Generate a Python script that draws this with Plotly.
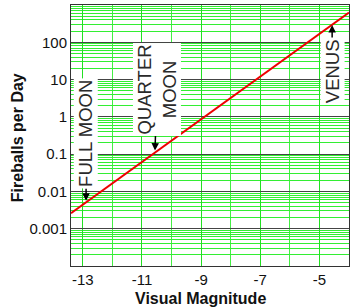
import math
import plotly.graph_objects as go

# Data
magnitude = [-13.4, -4.0]
fireballs_per_day = [0.0026, 630]

x_tick_vals = [-13, -11, -9, -7, -5]
x_tick_text = ["-13", "-11", "-9", "-7", "-5"]
y_tick_vals = [100, 10, 1, 0.1, 0.01, 0.001]
y_tick_text = ["100", "10", "1", "0.1", "0.01", "0.001"]

label_text = ["FULL MOON", "QUARTER<br>MOON", "VENUS"]
label_x = [-12.89, -10.56, -4.57]
label_y = [0.0056, 0.125, 290]
label_ax = [0, 2, 0]
label_ay = [-67, -61, 46]

x_title = "Visual Magnitude"
y_title = "Fireballs per Day"

fig = go.Figure()
fig.add_trace(go.Scatter(x=magnitude, y=fireballs_per_day, mode="lines",
                         line=dict(color="#ee0000", width=2), showlegend=False,
                         hoverinfo="skip"))

for t, x, y, ax, ay in zip(label_text, label_x, label_y, label_ax, label_ay):
    fig.add_annotation(x=x, y=math.log10(y), xref="x", yref="y", text=t, textangle=-90,
                       showarrow=True, arrowhead=2, arrowsize=1, arrowwidth=1.5,
                       arrowcolor="black", ax=ax, ay=ay, bgcolor="white",
                       font=dict(family="Liberation Sans, Arial", size=18.5, color="#2a2a2a"),
                       borderpad=1)

# axis titles as annotations (positioned like the reference)
fig.add_annotation(x=0.4676, y=0, xref="paper", yref="paper", yanchor="middle",
                   yshift=-32, text="<b>" + x_title + "</b>", showarrow=False,
                   font=dict(family="Liberation Sans, Arial", size=16, color="#111"))
fig.add_annotation(x=-0.194, y=0.49, xref="paper", yref="paper", xanchor="center",
                   yanchor="middle", textangle=-90, text="<b>" + y_title + "</b>",
                   showarrow=False,
                   font=dict(family="Liberation Sans, Arial", size=16, color="#111"))

fig.update_layout(
    width=360, height=308,
    margin=dict(l=71, r=11, t=5, b=42),
    plot_bgcolor="white", paper_bgcolor="white",
    font=dict(family="Liberation Sans, Arial", size=15, color="#111"),
    xaxis=dict(range=[-13.4, -4], tickvals=x_tick_vals, ticktext=x_tick_text,
               showgrid=True, gridcolor="#22e022", gridwidth=1,
               minor=dict(dtick=1, tick0=-13, showgrid=True, gridcolor="#44ee44", gridwidth=1),
               showline=True, linecolor="#333", linewidth=1, mirror=True,
               zeroline=False, ticks="",
               tickfont=dict(size=15, color="#111")),
    yaxis=dict(type="log", range=[-4, 3], tickvals=y_tick_vals, ticktext=y_tick_text,
               showgrid=True, gridcolor="#444", gridwidth=1,
               minor=dict(dtick="D1", showgrid=True, gridcolor="#33ee33", gridwidth=1),
               showline=True, linecolor="#333", linewidth=1, mirror=True,
               zeroline=False, ticks="",
               tickfont=dict(size=15, color="#111")),
)

fig.write_html("out.html")
